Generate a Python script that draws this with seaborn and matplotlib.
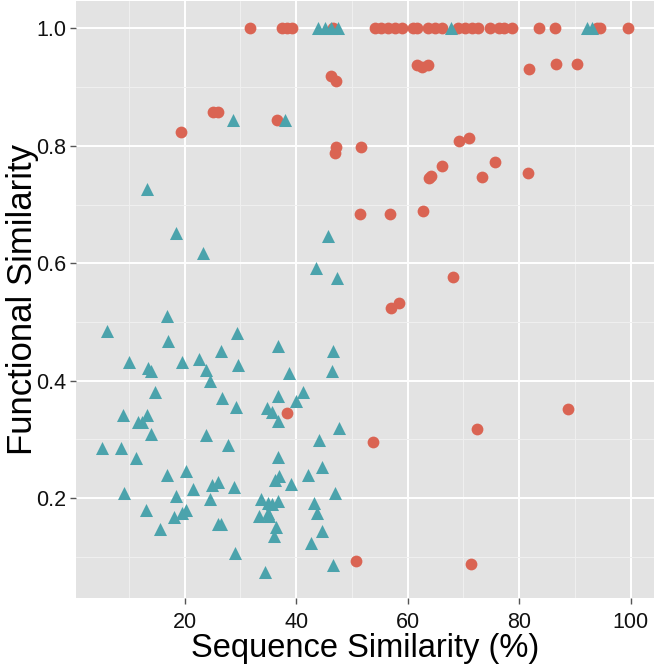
import numpy as np
import pandas as pd
import matplotlib
matplotlib.use("Agg")
import matplotlib.pyplot as plt
from matplotlib.ticker import MultipleLocator, FixedLocator
import seaborn as sns

# ---- data ----
red_top_x = [31.8, 37.4, 38.3, 39.2, 46.6, 54.1, 55.3, 56.5, 57.7, 58.9, 60.9, 61.7,
             63.7, 64.9, 66.1, 69.1, 70.3, 71.5, 72.7, 74.8, 76.3, 77.2, 78.8, 83.6,
             86.4, 93.9, 94.5, 99.5]
red_x = [46.2, 47.2, 25.0, 26.0, 36.6, 19.4, 47.1, 47.0, 51.7, 61.7, 62.6, 63.7, 81.7,
         86.6, 90.3, 69.2, 71.0, 66.1, 63.9, 64.1, 75.7, 73.3, 81.5, 51.5, 56.8, 62.7,
         68.2, 57.0, 58.4, 38.3, 53.8, 72.5, 88.8, 50.8, 71.3]
red_y = [0.919, 0.911, 0.858, 0.858, 0.844, 0.823, 0.798, 0.788, 0.798, 0.937, 0.935,
         0.937, 0.931, 0.939, 0.939, 0.808, 0.813, 0.765, 0.745, 0.748, 0.772, 0.746,
         0.753, 0.683, 0.683, 0.689, 0.576, 0.524, 0.532, 0.345, 0.296, 0.317, 0.352,
         0.093, 0.087]

teal_top_x = [43.9, 45.2, 46.2, 47.5, 67.8, 92.2, 93.0]
teal_x = [28.7, 38.0, 13.3, 18.5, 23.3, 45.7, 43.5, 47.3, 16.8, 6.0, 17.0, 29.3, 36.8,
          26.5, 46.6, 10.0, 13.4, 13.9, 19.5, 22.5, 23.8, 29.6, 38.7, 46.5, 24.6, 14.6,
          41.3, 26.7, 29.2, 36.8, 39.9, 34.7, 35.6, 36.7, 8.9, 13.3, 11.6, 12.4, 14.0,
          47.7, 44.1, 5.2, 8.5, 23.8, 27.8, 11.2, 36.8, 44.7, 16.8, 20.3, 36.9, 36.2,
          42.2, 39.0, 25.9, 24.9, 21.4, 28.9, 9.2, 18.5, 24.5, 33.6, 35.0, 35.6, 36.8,
          46.9, 43.2, 43.7, 13.0, 20.3, 19.6, 18.1, 33.4, 35.0, 35.2, 15.5, 25.9, 26.6,
          36.3, 36.1, 44.7, 42.6, 29.0, 46.6, 34.4]
teal_y = [0.844, 0.844, 0.727, 0.651, 0.618, 0.647, 0.592, 0.575, 0.510, 0.485, 0.467,
          0.481, 0.459, 0.450, 0.450, 0.431, 0.421, 0.416, 0.431, 0.437, 0.418, 0.427,
          0.413, 0.417, 0.399, 0.381, 0.381, 0.370, 0.356, 0.374, 0.366, 0.353, 0.346,
          0.332, 0.342, 0.342, 0.330, 0.330, 0.309, 0.320, 0.299, 0.286, 0.286, 0.307,
          0.291, 0.268, 0.270, 0.253, 0.240, 0.247, 0.238, 0.230, 0.240, 0.224, 0.228,
          0.222, 0.215, 0.219, 0.208, 0.203, 0.199, 0.198, 0.192, 0.190, 0.195, 0.208,
          0.191, 0.175, 0.180, 0.180, 0.175, 0.168, 0.170, 0.175, 0.170, 0.148, 0.156,
          0.156, 0.150, 0.136, 0.144, 0.123, 0.107, 0.086, 0.074]

x_ticks = [20, 40, 60, 80, 100]
y_ticks = [0.2, 0.4, 0.6, 0.8, 1.0]
y_tick_labels = ["0.2", "0.4", "0.6", "0.8", "1.0"]

# ---- build tables ----
df_red = pd.DataFrame({"seq": red_top_x + red_x,
                       "func": [1.0] * len(red_top_x) + red_y})
df_teal = pd.DataFrame({"seq": teal_top_x + teal_x,
                        "func": [1.0] * len(teal_top_x) + teal_y})

sns.set_theme(style="darkgrid")
plt.rcParams["font.family"] = ["Liberation Sans", "DejaVu Sans"]

fig = plt.figure(figsize=(6.58, 6.64), dpi=100)
ax = fig.add_axes([0.1155, 0.0995, 0.8785, 0.8985])
ax.set_facecolor("#E3E3E3")

sns.scatterplot(data=df_red, x="seq", y="func", color="#DA6453", marker="o",
                s=72, linewidth=0, legend=False, ax=ax, zorder=3)
sns.scatterplot(data=df_teal, x="seq", y="func", color="#4BA3AC", marker="^",
                s=88, linewidth=0, legend=False, ax=ax, zorder=3)

ax.set_xlim(0.5, 104.2)
ax.set_ylim(0.030, 1.046)
ax.xaxis.set_major_locator(FixedLocator(x_ticks))
ax.xaxis.set_minor_locator(MultipleLocator(10))
ax.yaxis.set_major_locator(FixedLocator(y_ticks))
ax.set_yticklabels(y_tick_labels)
ax.yaxis.set_minor_locator(MultipleLocator(0.1))

ax.grid(which="major", color="white", linewidth=1.4)
ax.grid(which="minor", color="#F0F0F0", linewidth=0.7)
ax.set_axisbelow(True)
for sp in ax.spines.values():
    sp.set_visible(False)

ax.tick_params(which="major", length=4, width=1, color="#555555",
               labelsize=15.5, labelcolor="#111111")
ax.tick_params(axis="x", pad=6)
ax.tick_params(axis="y", pad=3)
ax.tick_params(which="minor", length=0)
ax.tick_params(axis="both", which="both", bottom=True, left=True)

ax.set_xlabel("Sequence Similarity (%)", fontsize=23.5, color="black", labelpad=0)
ax.set_ylabel("Functional Similarity", fontsize=25, color="black")
ax.yaxis.set_label_coords(-0.064, 0.5)

fig.savefig("out.png", dpi=100)
